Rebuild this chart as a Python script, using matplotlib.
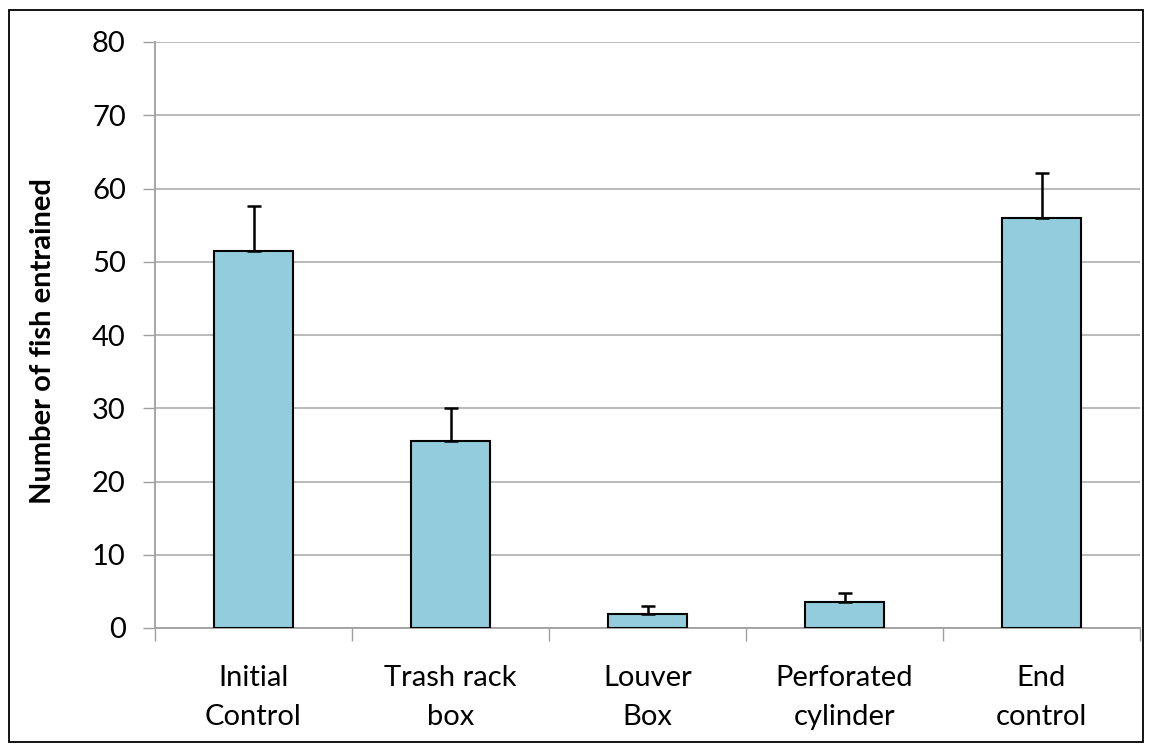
import matplotlib.pyplot as plt
import matplotlib.patches as patches

# Treatments along the x axis and their mean counts.
categories = ['Initial\nControl', 'Trash rack\nbox', 'Louver\nBox',
              'Perforated\ncylinder', 'End\ncontrol']
means = [51.5, 25.5, 1.9, 3.5, 56.0]
# Upper error (one-sided) above each bar.
errors = [6.1, 4.5, 1.1, 1.3, 6.1]

plt.rcParams['font.family'] = ['Lato', 'DejaVu Sans']

fig = plt.figure(figsize=(11.53, 7.52), dpi=100)
ax = fig.add_axes([155 / 1153, 124 / 752, 985 / 1153, 586 / 752])

x = list(range(len(categories)))
ax.bar(x, means, width=0.4, color='#93CDDD', edgecolor='black',
       linewidth=1.5, zorder=3)
ax.errorbar(x, means, yerr=[[0] * len(errors), errors], fmt='none',
            ecolor='black', elinewidth=1.8, capsize=5, capthick=1.8, zorder=4)

ax.set_xlim(-0.5, len(categories) - 0.5)
ax.set_ylim(0, 80)
ax.set_yticks(range(0, 81, 10))
ax.tick_params(axis='y', labelsize=21, length=9, width=1, color='#a0a0a0',
               pad=12)

# category labels sit between boundary ticks
ax.set_xticks([i - 0.5 for i in range(len(categories) + 1)])
ax.set_xticklabels([])
ax.tick_params(axis='x', length=9, width=1, color='#a0a0a0')
for i, lab in enumerate(categories):
    ax.text(i, -5.1, lab, ha='center', va='top', fontsize=21,
            linespacing=1.62)

ax.grid(axis='y', color='#b4b4b4', linewidth=1.3, zorder=0)
for s in ['top', 'right']:
    ax.spines[s].set_visible(False)
for s in ['left', 'bottom']:
    ax.spines[s].set_color('#a0a0a0')
    ax.spines[s].set_linewidth(1.3)

ax.set_ylabel('Number of fish entrained', fontsize=21, fontweight='bold')
ax.yaxis.set_label_coords(-0.1, 0.49)

# outer chart border
fig.patches.append(patches.Rectangle((9 / 1153, 10 / 752), 1134 / 1153,
                                     732 / 752, transform=fig.transFigure,
                                     fill=False, edgecolor='black',
                                     linewidth=1.3))

fig.savefig('out.png', dpi=100)
